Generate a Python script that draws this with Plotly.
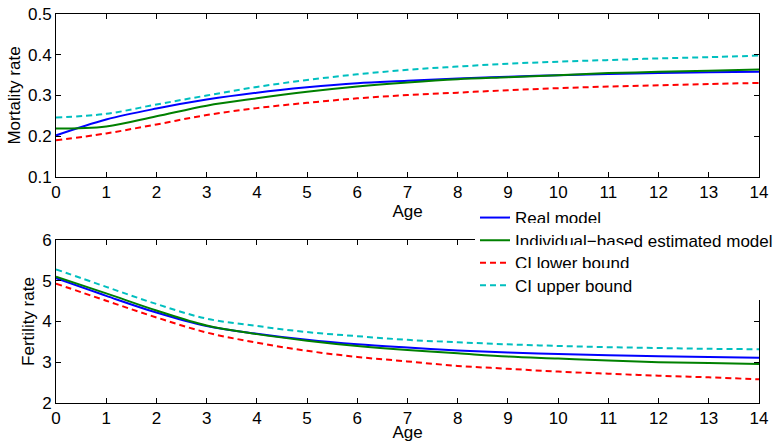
import plotly.graph_objects as go
from plotly.subplots import make_subplots

ages = list(range(0, 15))

# Mortality rate (top panel)
mort_real = [0.202, 0.241, 0.268, 0.290, 0.307, 0.320, 0.330, 0.336, 0.342, 0.346, 0.350, 0.353, 0.355, 0.357, 0.358]
mort_est = [0.219, 0.224, 0.249, 0.275, 0.293, 0.309, 0.322, 0.332, 0.340, 0.345, 0.350, 0.355, 0.358, 0.361, 0.364]
mort_lo = [0.190, 0.207, 0.229, 0.252, 0.269, 0.282, 0.293, 0.301, 0.307, 0.313, 0.318, 0.322, 0.325, 0.328, 0.331]
mort_hi = [0.246, 0.255, 0.278, 0.300, 0.321, 0.338, 0.352, 0.363, 0.371, 0.378, 0.383, 0.387, 0.391, 0.394, 0.398]

# Fertility rate (bottom panel)
fert_real = [5.06, 4.63, 4.22, 3.89, 3.70, 3.55, 3.44, 3.36, 3.29, 3.24, 3.20, 3.17, 3.15, 3.13, 3.11]
fert_est = [5.10, 4.69, 4.27, 3.90, 3.69, 3.53, 3.40, 3.30, 3.22, 3.14, 3.09, 3.04, 3.00, 2.98, 2.96]
fert_lo = [4.93, 4.51, 4.10, 3.73, 3.48, 3.28, 3.13, 3.02, 2.91, 2.84, 2.77, 2.72, 2.67, 2.63, 2.58]
fert_hi = [5.28, 4.85, 4.43, 4.07, 3.89, 3.74, 3.64, 3.55, 3.49, 3.44, 3.40, 3.37, 3.35, 3.33, 3.32]

names = ["Real model", "Individual\u2212based estimated model", "CI lower bound", "CI upper bound"]
colors = ["#0000FF", "#008000", "#FF0000", "#00BFBF"]
dashes = ["solid", "solid", "6px,4px", "6px,4px"]

x_ticks = list(range(0, 15))
mort_ticks = [0.1, 0.2, 0.3, 0.4, 0.5]
fert_ticks = [2, 3, 4, 5, 6]

FONT = "Liberation Sans, Arial, Helvetica, sans-serif"

W, H = 783, 442
ML, MR, MT, MB = 56, 24, 14, 39
PW, PH = W - ML - MR, H - MT - MB


def px_x(px):
    return (px - ML) / PW


def px_y(py):
    return (H - MB - py) / PH


fig = make_subplots(rows=2, cols=1, vertical_spacing=(240 - 177) / PH)

legend_ids = ["legend", "legend2", "legend3", "legend4"]
for i, ys in enumerate([mort_real, mort_est, mort_lo, mort_hi]):
    fig.add_trace(go.Scatter(x=ages, y=ys, mode="lines", name=names[i],
                             line=dict(color=colors[i], width=2, dash=dashes[i], shape="spline"),
                             showlegend=False), row=1, col=1)
for i, ys in enumerate([fert_real, fert_est, fert_lo, fert_hi]):
    fig.add_trace(go.Scatter(x=ages, y=ys, mode="lines", name=names[i],
                             line=dict(color=colors[i], width=2, dash=dashes[i], shape="spline"),
                             showlegend=True, legend=legend_ids[i]), row=2, col=1)

axis_common = dict(showline=True, linecolor="black", linewidth=1, mirror="ticks",
                   ticks="inside", ticklen=5, tickwidth=1, tickcolor="black",
                   showgrid=False, zeroline=False, automargin=False,
                   tickfont=dict(family=FONT, size=17, color="black"))

fig.update_xaxes(range=[0, 14], tickvals=x_ticks, ticktext=[str(v) for v in x_ticks],
                 title=dict(text="Age", font=dict(family=FONT, size=17, color="black"), standoff=0),
                 **axis_common)
fig.update_yaxes(range=[0.1, 0.5], tickvals=mort_ticks, ticktext=[f"{v:.1f}" for v in mort_ticks],
                 title=dict(text="Mortality rate", font=dict(family=FONT, size=17, color="black"), standoff=3),
                 row=1, col=1, **axis_common)
fig.update_yaxes(range=[2, 6], tickvals=fert_ticks, ticktext=[str(v) for v in fert_ticks],
                 title=dict(text="Fertility rate", font=dict(family=FONT, size=17, color="black"), standoff=3),
                 row=2, col=1, **axis_common)

legend_style = dict(xanchor="left", yanchor="middle", bgcolor="white", borderwidth=0,
                    font=dict(family=FONT, size=17, color="black"))
legend_centers = [218, 240.6, 263.2, 285.8]
layout_legends = {}
for lid, cy in zip(legend_ids, legend_centers):
    layout_legends[lid] = dict(x=px_x(475), y=px_y(cy), **legend_style)

fig.update_layout(
    width=W, height=H, autosize=False,
    margin=dict(l=ML, r=MR, t=MT, b=MB, autoexpand=False),
    paper_bgcolor="white", plot_bgcolor="white",
    font=dict(family=FONT, size=17, color="black"),
    showlegend=True,
    **layout_legends,
)

# white legend box (MATLAB legend background, no border)
fig.add_shape(type="rect", xref="paper", yref="paper",
              x0=px_x(477), x1=px_x(790), y0=px_y(300), y1=px_y(205),
              fillcolor="white", line=dict(width=0), layer="above")

fig.write_html("out.html", config={"displayModeBar": False},
               post_script="document.body.style.margin='0';")
